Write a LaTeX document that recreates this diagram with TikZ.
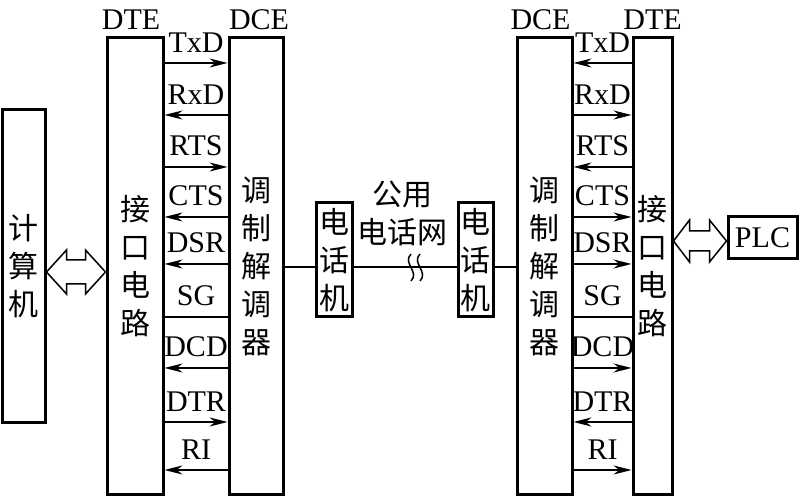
\documentclass[tikz,border=0pt]{standalone}
\usepackage{fontspec}
\setmainfont{Liberation Serif}
\newfontfamily\cjk{Noto Sans CJK SC}
\usetikzlibrary{arrows.meta,positioning,calc}

\begin{document}
\begin{tikzpicture}[x=0.5pt,y=-0.5pt,
  blk/.style={draw,line width=1.5pt,inner sep=0pt,align=center,
    font=\cjk\fontsize{15}{19}\selectfont},
  sig/.style={line width=0.75pt},
  tx/.style={-{Stealth[length=9pt,width=4.5pt]}},
  rx/.style={{Stealth[length=9pt,width=4.5pt]}-},
  gnd/.style={-},
  lbl/.style={font=\fontsize{15}{17}\selectfont,inner sep=0pt,yshift=5pt},
  hd/.style={font=\fontsize{15}{17}\selectfont},
  dbl/.style={draw,line width=0.75pt,line join=miter}]
  \useasboundingbox (0,0) rectangle (799,497);

  \node[blk,minimum width=21.5pt,minimum height=156.5pt] (comp) at (23.5,266.5) {计\\算\\机};
  \node[blk,minimum width=28pt,minimum height=228.5pt] (dteL) at (135,266.5) {接\\口\\电\\路};
  \node[blk,minimum width=27pt,minimum height=228.5pt] (dceL) at (256,266.5) {调\\制\\解\\调\\器};
  \node[blk,minimum width=18pt,minimum height=57pt] (telL) at (334,260) {电\\话\\机};
  \node[blk,minimum width=17.5pt,minimum height=57pt] (telR) at (475.5,260) {电\\话\\机};
  \node[blk,minimum width=27.5pt,minimum height=228.5pt] (dceR) at (544.5,266.5) {调\\制\\解\\调\\器};
  \node[blk,minimum width=19.5pt,minimum height=228.5pt] (dteR) at (652.5,266.5) {接\\口\\电\\路};
  \node[draw,line width=1.5pt,minimum width=34.5pt,minimum height=21pt,hd] (plc) at (762.5,238) {PLC};

  \node[hd,above=0pt of dteL,xshift=-2pt] {DTE};
  \node[hd,above=0pt of dceL,xshift=1.5pt] {DCE};
  \node[hd,above=0pt of dceR,xshift=-2pt] {DCE};
  \node[hd,above=0pt of dteR] {DTE};
  \node[align=center,font=\cjk\fontsize{15}{19}\selectfont] (net) at (402,213) {公用\\电话网};

  \foreach \y/\s/\d in {63/TxD/tx,115/RxD/rx,167/RTS/tx,217/CTS/rx,264/DSR/rx,
                        317/SG/gnd,368/DCD/rx,422/DTR/tx,470/RI/rx}
  {
    \draw[sig,\d] (dteL.east |- 0,\y) -- (dceL.west |- 0,\y) node[midway,above,lbl] {\s};
    \draw[sig,\d] (dteR.west |- 0,\y) -- (dceR.east |- 0,\y) node[midway,above,lbl] {\s};
  }

  \draw[sig] (dceL.east |- 0,267) -- (telL.west |- 0,267);
  \draw[sig] (telL.east |- 0,267) -- (telR.west |- 0,267);
  \draw[sig] (telR.east |- 0,267) -- (dceR.west |- 0,267);
  \foreach \x in {411,420}
    \draw[sig] (\x,254) .. controls (\x-9,263) and (\x+9,272) .. (\x,281);

  \coordinate (la) at (comp.east |- 0,272);
  \coordinate (lb) at (dteL.west |- 0,272);
  \draw[dbl] (la) -- ++(20,-22) -- ++(0,10) -- ($(lb)+(-20,-12)$) -- ++(0,-10) -- (lb)
    -- ++(-20,22) -- ++(0,-10) -- ($(la)+(20,12)$) -- ++(0,10) -- cycle;
  \coordinate (ra) at (dteR.east |- 0,241);
  \coordinate (rb) at (plc.west |- 0,241);
  \draw[dbl] (ra) -- ++(16,-21) -- ++(0,11) -- ($(rb)+(-17,-10)$) -- ++(0,-11) -- (rb)
    -- ++(-17,21) -- ++(0,-11) -- ($(ra)+(16,10)$) -- ++(0,11) -- cycle;
\end{tikzpicture}
\end{document}
